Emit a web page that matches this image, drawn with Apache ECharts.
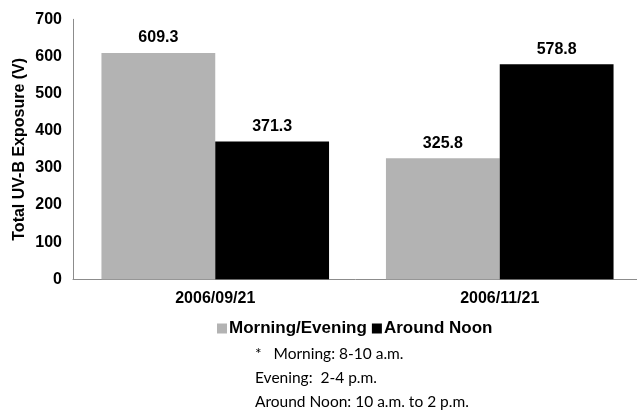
<!DOCTYPE html>
<html>
<head>
<meta charset="utf-8">
<script src="https://cdn.jsdelivr.net/npm/echarts@6/dist/echarts.min.js"></script>
<style>
  html, body { margin: 0; padding: 0; background: #fff; }
  #chart { width: 637px; height: 410px; }
</style>
</head>
<body>
<div id="chart"></div>
<script>
// Sampling dates and total UV-B exposure for each time window
const dates = ['2006/09/21', '2006/11/21'];
const morningEvening = [609.3, 325.8];
const aroundNoon = [371.3, 578.8];
const seriesNames = ['Morning/Evening', 'Around Noon'];
const noteLines = ['*   Morning: 8-10 a.m.', 'Evening:  2-4 p.m.', 'Around Noon: 10 a.m. to 2 p.m.'];

const boldFont = { fontFamily: 'Liberation Sans, Arial, sans-serif', fontWeight: 'bold', color: '#000' };

const chart = echarts.init(document.getElementById('chart'), null, { renderer: 'canvas' });

const labelStyle = Object.assign({
  show: true,
  position: 'top',
  distance: 7,
  fontSize: 16,
  formatter: p => p.value.toFixed(1)
}, boldFont);

chart.setOption({
  animation: false,
  backgroundColor: '#fff',
  // the plot area runs slightly past the right edge of the canvas
  grid: { left: 73, top: 19.3, width: 569, height: 260, outerBoundsMode: 'none', containLabel: false },
  legend: {
    data: seriesNames,
    left: 212,
    top: 315,
    itemWidth: 10,
    itemHeight: 10,
    itemGap: 5,
    icon: 'rect',
    textStyle: Object.assign({ fontSize: 17, padding: [0, 0, 0, -3] }, boldFont)
  },
  xAxis: {
    type: 'category',
    data: dates,
    axisLine: { lineStyle: { color: '#8c8c8c', width: 1 } },
    axisTick: { show: false },
    axisLabel: Object.assign({ fontSize: 16, margin: 11 }, boldFont)
  },
  yAxis: {
    type: 'value',
    min: 0,
    max: 700,
    interval: 100,
    name: 'Total UV-B Exposure (V)',
    nameLocation: 'middle',
    nameGap: 45,
    nameRotate: 90,
    nameMoveOverlap: false,
    nameTextStyle: Object.assign({ fontSize: 16 }, boldFont),
    axisLine: { show: true, lineStyle: { color: '#8c8c8c', width: 1 } },
    axisTick: { show: false },
    splitLine: { show: false },
    axisLabel: Object.assign({ fontSize: 16, margin: 11 }, boldFont)
  },
  series: [
    {
      name: seriesNames[0],
      type: 'bar',
      data: morningEvening,
      barGap: '0%',
      barCategoryGap: '20%',
      itemStyle: { color: '#b3b3b3' },
      label: labelStyle
    },
    {
      name: seriesNames[1],
      type: 'bar',
      data: aroundNoon,
      barGap: '0%',
      barCategoryGap: '20%',
      itemStyle: { color: '#000' },
      label: labelStyle
    }
  ],
  graphic: noteLines.map((t, i) => ({
    type: 'text',
    left: 255,
    top: 346 + i * 24,
    style: {
      text: t,
      fontFamily: 'Lato, Open Sans, sans-serif',
      fontSize: 15.5,
      fill: '#000'
    }
  }))
});
</script>
</body>
</html>
